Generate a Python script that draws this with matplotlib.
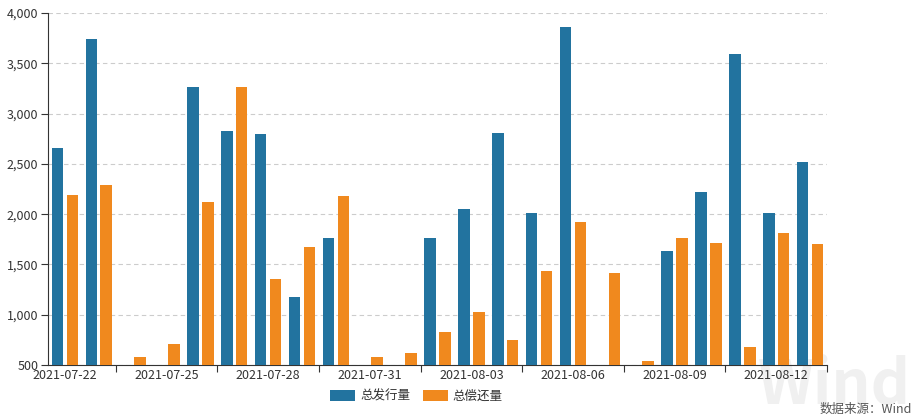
import matplotlib
matplotlib.use("Agg")
import matplotlib.pyplot as plt
import numpy as np
from matplotlib.ticker import FuncFormatter

plt.rcParams['font.family'] = ['Noto Sans CJK SC', 'DejaVu Sans']

dates = ['2021-07-22', '2021-07-23', '2021-07-24', '2021-07-25', '2021-07-26',
         '2021-07-27', '2021-07-28', '2021-07-29', '2021-07-30', '2021-07-31',
         '2021-08-01', '2021-08-02', '2021-08-03', '2021-08-04', '2021-08-05',
         '2021-08-06', '2021-08-07', '2021-08-08', '2021-08-09', '2021-08-10',
         '2021-08-11', '2021-08-12', '2021-08-13']
issue = [2660, 3745, 0, 0, 3265, 2825, 2792, 1180, 1759,
         0, 0, 1759, 2050, 2803, 2008, 3863, 0, 0,
         1636, 2217, 3597, 2014, 2515]
repay = [2195, 2288, 578, 705, 2125, 3260, 1352, 1676, 2185,
         580, 620, 825, 1030, 745, 1434, 1921, 1411, 540,
         1762, 1710, 682, 1815, 1703]

blue = '#22739f'
orange = '#f0891e'

fig = plt.figure(figsize=(9.15, 4.19), dpi=100)
ax = fig.add_axes([48/915, 54/419, 779/915, 352/419])

x = np.arange(len(dates))
ax.bar(x - 0.22, issue, width=0.34, color=blue, label='总发行量', zorder=3)
ax.bar(x + 0.22, repay, width=0.34, color=orange, label='总偿还量', zorder=3)

ax.set_xlim(-0.5, len(dates) - 0.5)
ax.set_ylim(500, 4000)
ax.set_yticks(np.arange(500, 4001, 500))
ax.yaxis.set_major_formatter(FuncFormatter(lambda v, p: f'{int(v):,}'))
ax.grid(axis='y', color='#cccccc', linestyle=(0, (4, 3)), linewidth=0.8, zorder=0)

# category boundaries as ticks, labels every 3 days
ax.set_xticks(np.arange(1.5, len(dates), 3))
ax.set_xticklabels([])
ax.set_xticks(x[::3], minor=True)
ax.set_xticklabels(dates[::3], minor=True)
ax.tick_params(axis='x', which='major', length=5, color='#333333')
ax.tick_params(axis='x', which='minor', length=0, pad=3, labelsize=9, labelcolor='#333333')
ax.tick_params(axis='y', length=5, color='#333333', labelsize=9, labelcolor='#333333', pad=2)

for s in ['top', 'right']:
    ax.spines[s].set_visible(False)
ax.spines['left'].set_color('#333333')
ax.spines['bottom'].set_color('#333333')

# faint watermark, kept behind everything
ax.text(0.995, 0.005, 'Wind', transform=fig.transFigure, fontsize=44, color='#f0f0f0',
        ha='right', va='bottom', fontweight='bold', zorder=0, clip_on=False)

fig.legend(loc='center', bbox_to_anchor=(0.455, 0.055), ncol=2, frameon=False,
           fontsize=9, handlelength=2.0, handleheight=1.0, columnspacing=1.0,
           handletextpad=0.4, labelcolor='#333333')

fig.text(0.997, 0.022, '数据来源：Wind', fontsize=9, color='#555555', ha='right', va='center')

fig.savefig('out.png', dpi=100)
